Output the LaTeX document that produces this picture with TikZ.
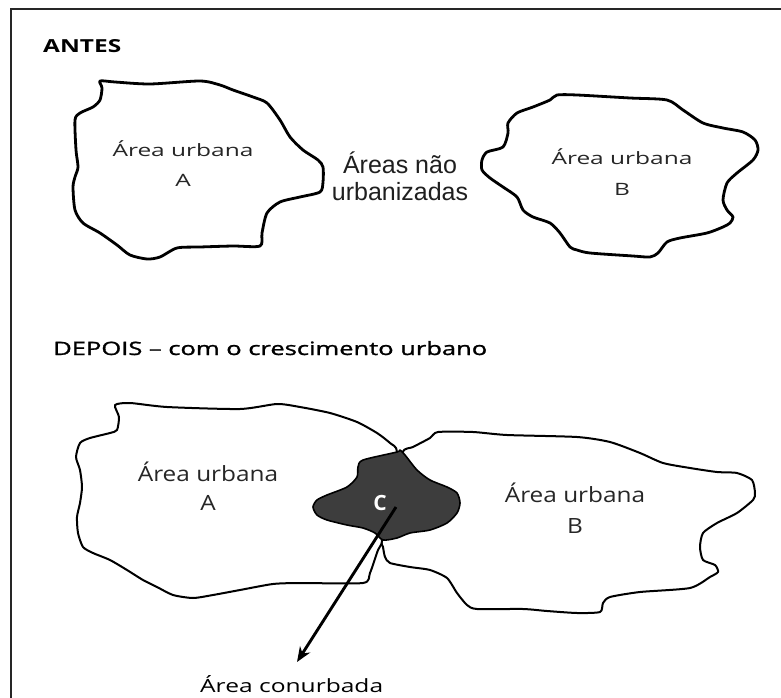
\documentclass[tikz,border=0pt]{standalone}
\usepackage{fontspec}
\usepackage{graphicx}
\setmainfont{Open Sans}
\newfontfamily\arialf{Liberation Sans}
\newfontfamily\semib[FakeBold=1.2]{Open Sans}
\usetikzlibrary{arrows.meta}
\begin{document}
\begin{tikzpicture}[x=1pt,y=-1pt,
  region/.style={draw=black, line width=2.8pt, fill=white, line join=round},
  regionlow/.style={draw=black, line width=2.0pt, fill=white, line join=round},
  conurb/.style={draw=black, line width=1.6pt, fill=black!76, line join=round},
  frameline/.style={draw=black!85, line width=2.5pt},
  lab/.style={inner sep=0pt, anchor=base, text=black!85},
  arr/.style={line width=2.9pt, -{Stealth[length=15pt, width=12pt]}}]
\useasboundingbox (0,0) rectangle (781,698);
% frame (cut by the page at right and bottom)
\draw[frameline] (11,698) -- (11,9) -- (781,9);

% ---------- ANTES ----------
\node[inner sep=0pt, anchor=base west] (antes) at (43,53) {\resizebox{78pt}{13pt}{\bfseries ANTES}};

\draw[region] plot[smooth cycle, tension=0.45] coordinates {
 (100,81) (115,82) (150,84) (200,81) (220,85) (233,90) (253,97) (267,103)
 (280,120) (290,137) (303,150) (318,160) (323,167) (323,182) (320,192)
 (300,197) (280,202) (267,213) (262,233) (260,246) (233,246) (200,247)
 (177,248) (160,257) (147,259) (130,255) (117,245) (100,233) (83,223)
 (75,210) (73,187) (75,177) (78,167) (76,150) (75,120) (80,113) (93,107)
 (100,100) (102,88)};

\draw[region] plot[smooth cycle, tension=0.45] coordinates {
 (557,95) (577,95) (630,98) (667,100) (683,110) (703,123) (723,128) (743,132)
 (755,140) (758,150) (753,160) (737,173) (727,183) (723,200) (727,210)
 (733,217) (730,223) (723,227) (707,233) (680,238) (667,242) (658,253)
 (650,257) (633,256) (590,253) (577,250) (570,247) (560,233) (550,223)
 (533,217) (523,210) (517,197) (503,187) (490,178) (482,170) (482,160)
 (487,152) (503,147) (508,133) (508,123) (517,113) (533,107) (550,100)};

\node[lab] (taA1) at (183,157) {\scalebox{1.44}[1]{\fontsize{17pt}{20pt}\selectfont Área urbana}};
\node[lab] (taA2) at (183,186) {\scalebox{1.44}[1]{\fontsize{17pt}{20pt}\selectfont A}};
\node[lab] (tbB1) at (622,164) {\scalebox{1.44}[1]{\fontsize{17pt}{20pt}\selectfont Área urbana}};
\node[lab] (tbB2) at (622,195) {\scalebox{1.44}[1]{\fontsize{17pt}{20pt}\selectfont B}};

\node[lab, text=black!88, font=\arialf\fontsize{25pt}{27pt}\selectfont] (nu1) at (400,173) {Áreas não};
\node[lab, text=black!88, font=\arialf\fontsize{25pt}{27pt}\selectfont] (nu2) at (400,200) {urbanizadas};

% ---------- DEPOIS ----------
\node[inner sep=0pt, anchor=base west] (depois) at (53,355) {\resizebox{434pt}{14pt}{\semib DEPOIS – com o crescimento urbano}};

% area A
\draw[regionlow] plot[smooth cycle, tension=0.4] coordinates {
 (115,405) (130,403) (167,407) (240,409) (277,404) (300,407) (330,413)
 (357,422) (377,433) (390,443) (397,452) (392,500) (383,540) (378,550)
 (370,573) (363,583) (300,583) (273,584) (240,590) (213,595) (193,598)
 (173,595) (157,587) (143,580) (127,570) (110,560) (93,553) (83,547)
 (78,533) (77,517) (80,503) (82,487) (80,470) (76,457) (80,443) (90,438)
 (110,433) (117,430) (119,417)};

% area B
\draw[regionlow] plot[smooth cycle, tension=0.4] coordinates {
 (402,453) (413,447) (430,438) (438,432) (473,432) (507,435) (577,437)
 (610,442) (640,453) (663,463) (690,468) (717,472) (737,473) (752,480)
 (755,493) (753,500) (737,513) (717,523) (703,533) (700,547) (703,560)
 (715,565) (718,572) (710,577) (690,588) (640,592) (610,597) (603,603)
 (600,612) (577,613) (547,611) (523,609) (477,609) (467,605) (457,593)
 (447,578) (430,570) (410,567) (390,563) (385,557) (383,547) (382,540)
 (392,500)};

% conurbated area C
\draw[conurb] plot[smooth cycle, tension=0.45] coordinates {
 (397,452) (363,460) (358,467) (357,477) (347,487) (327,495) (317,500)
 (313,507) (317,515) (327,520) (347,525) (363,528) (375,533) (383,540)
 (397,538) (410,533) (430,530) (447,523) (457,513) (460,503) (457,493)
 (447,487) (430,480) (417,470) (405,455) (400,450)};

\node[lab] (baA1) at (208,481) {\scalebox{1.16}[1]{\fontsize{21pt}{24pt}\selectfont Área urbana}};
\node[lab] (baA2) at (208,510) {\scalebox{1.16}[1]{\fontsize{21pt}{24pt}\selectfont A}};
\node[lab] (bbB1) at (575,502) {\scalebox{1.16}[1]{\fontsize{21pt}{24pt}\selectfont Área urbana}};
\node[lab] (bbB2) at (575,533) {\scalebox{1.16}[1]{\fontsize{21pt}{24pt}\selectfont B}};

\node[inner sep=0pt, text=white, font=\bfseries\fontsize{21pt}{24pt}\selectfont] (clab) at (380,503) {C};

\coordinate (cstart) at (396,507);
\coordinate (ctip) at (297,662);
\draw[arr] (cstart) -- (ctip);

\node[inner sep=0pt, anchor=base west] (conurbada) at (200,692) {\resizebox{183pt}{17pt}{Área conurbada}};
\end{tikzpicture}
\end{document}
